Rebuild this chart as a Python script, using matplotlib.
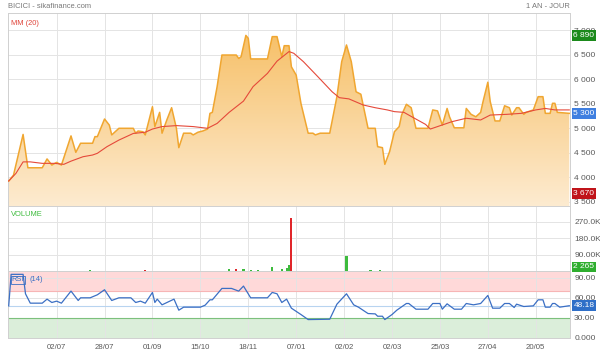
import numpy as np
import matplotlib
matplotlib.use("Agg")
import matplotlib.pyplot as plt
from matplotlib.colors import LinearSegmentedColormap
from matplotlib.patches import Polygon
from matplotlib.transforms import blended_transform_factory

plt.rcParams["font.family"] = ["Liberation Sans", "DejaVu Sans"]

# --- data (x = trading-day index) ---
price_day = [0, 2, 6, 8, 14, 16, 18, 20, 22, 26, 28, 30, 35, 36, 37, 40, 42, 43, 46, 52,
             53, 54, 56, 57, 60, 61, 63, 64, 66, 68, 70, 71, 73, 76, 77, 79, 81, 83, 84, 85,
             87, 89, 95, 96, 97, 99, 100, 101, 108, 110, 112, 114, 115, 117, 118, 120, 122, 125, 127, 128,
             130, 134, 137, 139, 141, 143, 145, 147, 150, 153, 154, 156, 157, 159, 161, 163, 164, 166, 168, 170,
             175, 177, 179, 181, 183, 184, 186, 190, 191, 193, 195, 197, 198, 200, 201, 203, 205, 207, 209, 210,
             212, 213, 215, 216, 219, 221, 223, 224, 226, 227, 228, 229, 234]
price = [3920, 4040, 4870, 4190, 4190, 4370, 4245, 4300, 4245, 4840, 4505, 4690, 4690, 4825, 4825, 5185, 5060, 4860, 4995, 4995,
         4895, 4940, 4925, 4860, 5435, 5030, 5320, 4895, 5165, 5415, 4995, 4600, 4895, 4895, 4860, 4915, 4940, 4980, 5300, 5320,
         5845, 6490, 6490, 6420, 6455, 6890, 6830, 6410, 6410, 6865, 6865, 6455, 6680, 6680, 6250, 6080, 5500, 4895, 4895, 4860,
         4895, 4895, 5640, 6355, 6695, 6355, 5740, 5690, 4995, 4995, 4620, 4600, 4260, 4520, 4925, 5030, 5265, 5485, 5415, 4995,
         4995, 5370, 5350, 5060, 5400, 5230, 5005, 5005, 5400, 5280, 5230, 5320, 5540, 5935, 5540, 5145, 5145, 5455, 5415, 5265,
         5415, 5415, 5280, 5320, 5370, 5640, 5640, 5300, 5300, 5505, 5505, 5320, 5300]

mm_day = [0, 3, 6, 9, 14, 19, 23, 26, 31, 35, 37, 41, 46, 52, 57, 60, 64, 70, 77, 83,
          87, 92, 98, 102, 108, 112, 117, 119, 123, 129, 135, 138, 142, 148, 153, 158, 161, 165, 169, 174,
          176, 179, 185, 191, 197, 201, 208, 214, 220, 224, 228, 234]
mm20 = [3920, 4075, 4310, 4310, 4280, 4280, 4260, 4325, 4415, 4450, 4485, 4620, 4755, 4890, 4915, 4980, 5030, 5050, 5030, 4995,
        5095, 5320, 5550, 5845, 6115, 6365, 6560, 6525, 6355, 6050, 5740, 5620, 5595, 5470, 5415, 5370, 5335, 5320, 5210, 5075,
        4980, 5030, 5130, 5200, 5165, 5265, 5280, 5300, 5370, 5400, 5370, 5370]

vol_day = [30, 34, 57, 59, 80, 92, 95, 98, 101, 104, 110, 114, 116, 117, 118, 141, 151, 155, 205, 223, 228, 233]
vol_k = [2, 3, 3, 2, 2, 10, 10, 13, 3, 3, 24, 10, 15, 34, 287, 80, 3, 3, 2, 2, 2, 2.3]
vol_up = [1, 1, 0, 0, 1, 1, 0, 1, 1, 1, 1, 1, 1, 1, 0, 1, 1, 1, 1, 1, 1, 1]

rsi_day = [0, 1, 6, 7, 9, 14, 16, 18, 20, 22, 26, 29, 30, 34, 37, 40, 43, 46, 51, 53,
           55, 57, 60, 61, 62, 64, 69, 71, 73, 80, 82, 84, 85, 89, 93, 96, 98, 101, 108, 110,
           112, 114, 116, 118, 122, 125, 134, 137, 141, 144, 146, 150, 153, 154, 156, 157, 160, 162, 166, 167,
           170, 175, 177, 180, 181, 183, 186, 189, 191, 194, 197, 200, 202, 205, 207, 209, 211, 212, 215, 219,
           221, 223, 224, 226, 227, 228, 230, 234]
rsi = [48, 95, 95, 66, 52, 52, 58, 53, 55, 52, 70, 56, 60, 60, 64.5, 72, 56, 60, 60, 53,
       55, 52, 68, 53, 58, 49.5, 58, 41.5, 46, 46, 49, 57, 57, 74, 74, 70, 77.5, 60, 60, 68,
       66, 53, 58, 44.5, 35, 27.5, 28, 50.5, 66, 49.5, 46, 36.5, 36, 32.5, 32.5, 27.5, 35, 41.5, 51.5, 51.5,
       43, 43, 51.5, 51.5, 43, 51, 43, 43, 51.5, 49.5, 51.5, 63.5, 44.5, 44.5, 51.5, 51.5, 45.5, 50.5, 47, 48,
       57, 57, 46, 46, 51.5, 51.5, 46, 48.18]

tick_day = [20, 40, 60, 80, 100, 120, 140, 160, 180, 200, 220]
tick_lbl = ["02/07", "28/07", "01/09", "15/10", "18/11", "07/01", "02/02", "02/03", "25/03", "27/04", "20/05"]

price_ticks = [3500, 4000, 4500, 5000, 5500, 6000, 6500, 7000]
vol_ticks = [90, 180, 270]
vol_tick_lbl = ["90.00K", "180.0K", "270.0K"]
rsi_ticks = [0, 30, 60, 90]
rsi_tick_lbl = ["0.000", "30.00", "60.00", "90.00"]

# --- layout in pixels ---
W, H = 600, 351
fig = plt.figure(figsize=(6, 3.51), dpi=100)

def px_axes(x0, y0, x1, y1):
    return fig.add_axes([x0 / W, 1 - y1 / H, (x1 - x0) / W, (y1 - y0) / H])

XLIM = (-0.3, 234.3)
ax = px_axes(8, 13, 570, 206)
axv = px_axes(8, 206, 570, 271)
axr = px_axes(8, 271, 570, 338)

grid_c = "#e4e4e4"
spine_c = "#d0d0d0"
lab_c = "#5a5a5a"
FS = 6      # tick labels
FS_S = 5.4  # small captions

for a in (ax, axv, axr):
    a.set_xlim(*XLIM)
    a.set_xticks(tick_day)
    a.grid(True, color=grid_c, lw=0.7)
    a.set_axisbelow(True)
    for s in a.spines.values():
        s.set_color(spine_c)
        s.set_linewidth(0.7)
    a.yaxis.tick_right()
    a.tick_params(axis="both", length=0, labelsize=FS, colors=lab_c, pad=3)
    a.tick_params(axis="x", labelbottom=False)

# --- price panel ---
ax.set_ylim(3410, 7347)
ax.set_yticks(price_ticks)
ax.set_yticklabels([f"{v:,}".replace(",", " ") for v in price_ticks])

ylo, yhi = ax.get_ylim()
verts = [(price_day[0], ylo)] + list(zip(price_day, price)) + [(price_day[-1], ylo)]
clip = Polygon(verts, closed=True, fc="none", ec="none", transform=ax.transData)
ax.add_patch(clip)
cmap = LinearSegmentedColormap.from_list("fill", ["#fdebd0", "#f6bb5c"])
grad = np.linspace(0, 1, 256).reshape(-1, 1)
img = ax.imshow(grad, extent=[XLIM[0], XLIM[1], ylo, yhi], aspect="auto",
                origin="lower", cmap=cmap, zorder=1)
img.set_clip_path(clip)
ax.plot(price_day, price, color="#f0a630", lw=1.1, zorder=3)
ax.plot(mm_day, mm20, color="#e5493a", lw=0.8, zorder=4)
ax.text(0.006, 0.965, "MM (20)", transform=ax.transAxes, color="#e0443a",
        fontsize=FS_S, va="top", ha="left")

tr = blended_transform_factory(ax.transAxes, ax.transData)
for val, txt, col in [(6890, "6 890", "#1b8a1b"), (5300, "5 300", "#3f7fe0"), (3670, "3 670", "#c0141a")]:
    ax.text(1.006, val, txt, transform=tr, color="white", fontsize=FS, va="center", ha="left",
            bbox=dict(boxstyle="square,pad=0.22", fc=col, ec="none"), clip_on=False, zorder=10)

# --- volume panel ---
axv.set_ylim(0, 355)
axv.set_yticks(vol_ticks)
axv.set_yticklabels(vol_tick_lbl)
vcol = ["#3dbb3d" if u else "#e0262a" for u in vol_up]
axv.bar(vol_day, vol_k, width=0.9, color=vcol, zorder=3)
axv.text(0.006, 0.93, "VOLUME", transform=axv.transAxes, color="#3dbb3d",
         fontsize=FS_S, va="top", ha="left")
trv = blended_transform_factory(axv.transAxes, axv.transData)
axv.text(1.006, 22, "2 265", transform=trv, color="white", fontsize=FS, va="center", ha="left",
         bbox=dict(boxstyle="square,pad=0.22", fc="#2fae2f", ec="none"), clip_on=False, zorder=10)

# --- RSI panel ---
axr.set_ylim(0, 100)
axr.set_yticks(rsi_ticks)
axr.set_yticklabels(rsi_tick_lbl)
axr.axhspan(70, 100, color="#ffd9d9", zorder=0.5, lw=0)
axr.axhline(70, color="#f7b5b5", lw=0.8, zorder=0.6)
axr.axhspan(0, 30, color="#dbeeda", zorder=0.5, lw=0)
axr.axhline(30, color="#7cc07c", lw=0.8, zorder=0.6)
axr.axhline(rsi[-1], color="#b8d4f0", lw=0.8, zorder=0.7)
axr.plot(rsi_day, rsi, color="#3b6fc4", lw=0.9, zorder=3)
axr.text(0.006, 0.92, "RSI", transform=axr.transAxes, color="#3b6fc4", fontsize=FS_S,
         va="top", ha="left", bbox=dict(boxstyle="square,pad=0.1", fc="none", ec="#3b6fc4", lw=0.6))
axr.text(0.039, 0.92, "(14)", transform=axr.transAxes, color="#3b6fc4", fontsize=FS_S,
         va="top", ha="left")
trr = blended_transform_factory(axr.transAxes, axr.transData)
axr.text(1.006, rsi[-1], f"{rsi[-1]:.2f}", transform=trr, color="white", fontsize=FS, va="center", ha="left",
         bbox=dict(boxstyle="square,pad=0.22", fc="#2f6fc8", ec="none"), clip_on=False, zorder=10)
axr.tick_params(axis="x", labelbottom=True, pad=4, labelsize=5.6)
axr.set_xticklabels(tick_lbl)

# header
fig.text(8 / W, 1 - 6 / H, "BICICI - sikafinance.com", color="#777777", fontsize=5.4, va="center", ha="left")
fig.text(570 / W, 1 - 6 / H, "1 AN - JOUR", color="#777777", fontsize=5.4, va="center", ha="right")

fig.savefig("out.png", dpi=100)
